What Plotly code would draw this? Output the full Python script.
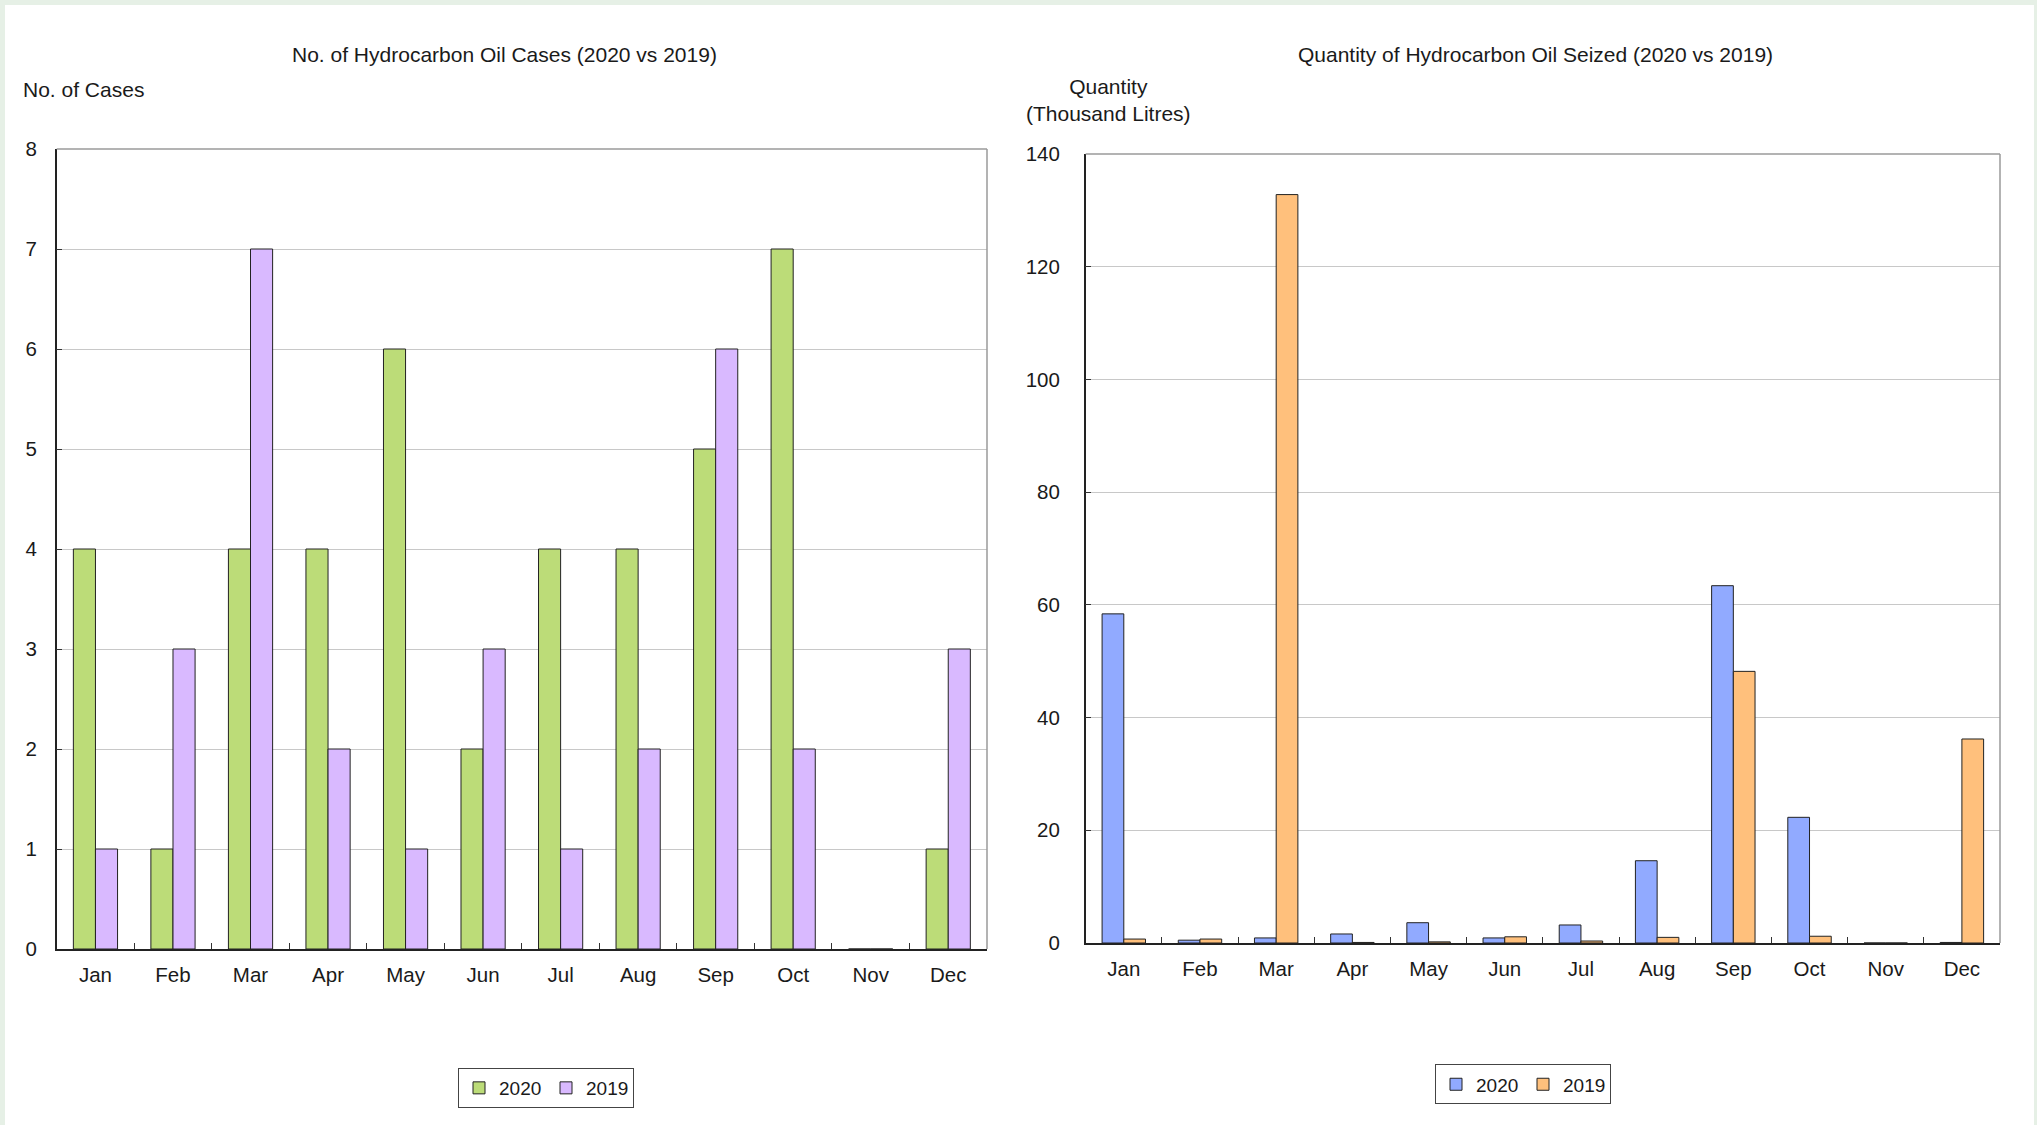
import plotly.graph_objects as go
from plotly.subplots import make_subplots

months = ["Jan", "Feb", "Mar", "Apr", "May", "Jun", "Jul", "Aug", "Sep", "Oct", "Nov", "Dec"]

cases_2020 = [4, 1, 4, 4, 6, 2, 4, 4, 5, 7, 0, 1]
cases_2019 = [1, 3, 7, 2, 1, 3, 1, 2, 6, 2, 0, 3]

qty_2020 = [58.4, 0.5, 0.9, 1.6, 3.6, 0.9, 3.2, 14.6, 63.4, 22.3, 0, 0.1]
qty_2019 = [0.7, 0.7, 132.8, 0.1, 0.2, 1.1, 0.35, 1.0, 48.2, 1.2, 0, 36.2]

left_title = "No. of Hydrocarbon Oil Cases (2020 vs 2019)"
right_title = "Quantity of Hydrocarbon Oil Seized (2020 vs 2019)"
left_ytitle = "No. of Cases"
right_ytitle = "Quantity<br>(Thousand Litres)"

W, H = 2029, 1120
FONT = "Liberation Sans, Arial, sans-serif"
TXT = "#1a1a1a"

fig = make_subplots(rows=1, cols=2)

line_col = "#222222"
fig.add_trace(go.Bar(x=months, y=cases_2020, name="2020", legend="legend",
                     marker=dict(color="#bcdc78", line=dict(color=line_col, width=1))), 1, 1)
fig.add_trace(go.Bar(x=months, y=cases_2019, name="2019", legend="legend",
                     marker=dict(color="#d9b9ff", line=dict(color=line_col, width=1))), 1, 1)
fig.add_trace(go.Bar(x=months, y=qty_2020, name="2020", legend="legend2",
                     marker=dict(color="#91aaff", line=dict(color=line_col, width=1))), 1, 2)
fig.add_trace(go.Bar(x=months, y=qty_2019, name="2019", legend="legend2",
                     marker=dict(color="#ffc07c", line=dict(color=line_col, width=1))), 1, 2)


def fx(px):
    return px / W


def fy(py_from_top):
    return (H - py_from_top) / H


xcommon = dict(type="category", categoryorder="array", categoryarray=months,
               automargin=False,
               showgrid=False, showline=True, linecolor="#222", linewidth=1.5,
               ticks="inside", tickson="boundaries", ticklen=6, tickcolor="#333",
               tickfont=dict(size=20.5, color=TXT, family=FONT), ticklabelstandoff=7)
fig.update_xaxes(**xcommon)
fig.update_xaxes(domain=[fx(51.7), fx(982)], row=1, col=1)
fig.update_xaxes(domain=[fx(1080.7), fx(1995)], row=1, col=2)

ycommon = dict(showgrid=True, gridcolor="#c8c8c8", gridwidth=1, zeroline=False,
               automargin=False,
               showline=True, linecolor="#222", linewidth=1.5,
               ticks="inside", ticklen=6, tickcolor="#333",
               tickfont=dict(size=20.5, color=TXT, family=FONT))
fig.update_yaxes(**ycommon)
fig.update_yaxes(domain=[fy(944), fy(144)], range=[0, 8], dtick=1,
                 ticklabelstandoff=14, row=1, col=1)
fig.update_yaxes(domain=[fy(938), fy(149)], range=[0, 140], dtick=20,
                 ticklabelstandoff=20, row=1, col=2)

# grey top/right frame lines
for xr, yr in (("x", "y"), ("x2", "y2")):
    fig.add_shape(type="line", xref=f"{xr} domain", yref=f"{yr} domain",
                  x0=0, x1=1, y0=1, y1=1, line=dict(color="#9a9a9a", width=1.5))
    fig.add_shape(type="line", xref=f"{xr} domain", yref=f"{yr} domain",
                  x0=1, x1=1, y0=0, y1=1, line=dict(color="#9a9a9a", width=1.5))

ann_font = dict(size=21, color=TXT, family=FONT)
fig.add_annotation(text=left_title, xref="paper", yref="paper", x=fx(499), y=fy(49.5),
                   xanchor="center", yanchor="middle", showarrow=False, font=ann_font)
fig.add_annotation(text=right_title, xref="paper", yref="paper", x=fx(1530.5), y=fy(49.5),
                   xanchor="center", yanchor="middle", showarrow=False, font=ann_font)
fig.add_annotation(text=left_ytitle, xref="paper", yref="paper", x=fx(16), y=fy(84.6),
                   xanchor="left", yanchor="middle", showarrow=False, font=ann_font)
fig.add_annotation(text=right_ytitle, xref="paper", yref="paper", x=fx(1103.5), y=fy(95.5),
                   xanchor="center", yanchor="middle", showarrow=False, align="center",
                   font=ann_font)

leg_common = dict(orientation="h", xanchor="center", yanchor="middle",
                  xref="container", yref="container",
                  bordercolor="#444", borderwidth=1, bgcolor="white",
                  font=dict(size=19, color=TXT, family=FONT),
                  itemwidth=30, entrywidth=42, tracegroupgap=0)
fig.update_layout(
    width=W, height=H,
    margin=dict(l=0, r=0, t=0, b=0, autoexpand=False),
    paper_bgcolor="white", plot_bgcolor="white",
    barmode="group", bargap=0.43, bargroupgap=0,
    font=dict(family=FONT, color=TXT),
    legend=dict(x=fx(541), y=fy(1083), **leg_common),
    legend2=dict(x=fx(1518), y=fy(1079.4), **leg_common),
)

fig.write_html(
    "out.html",
    post_script="document.body.style.margin='5px 3px 0 5px';"
                "document.body.style.background='#e6f0e6';"
                "document.body.style.overflow='hidden';",
)
